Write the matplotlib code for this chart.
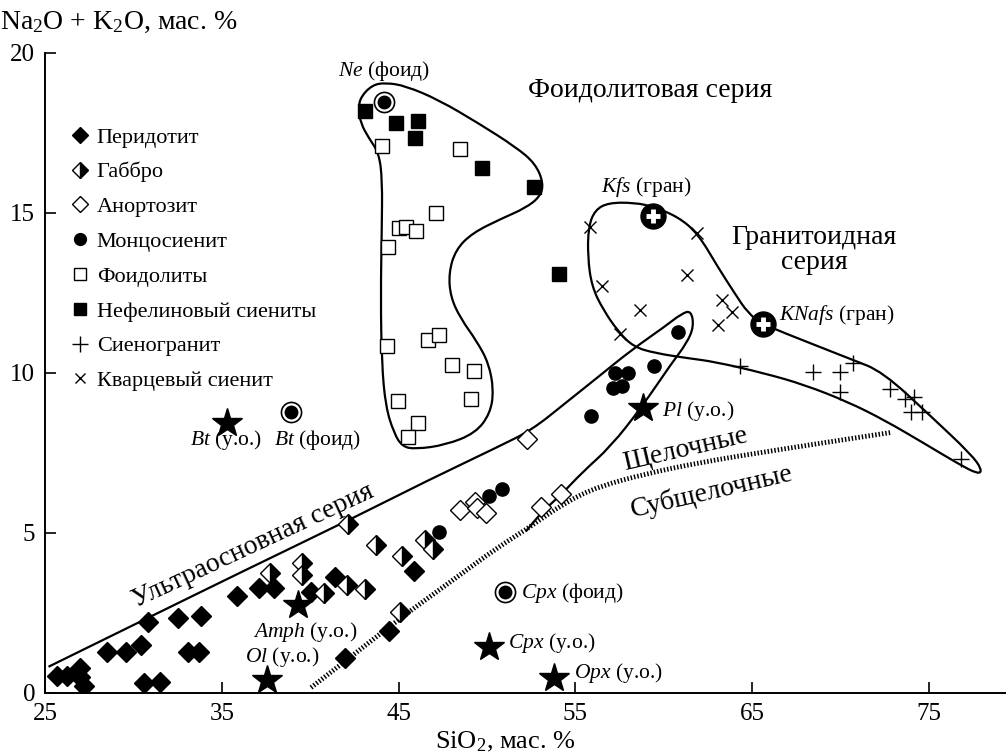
import numpy as np
import matplotlib
matplotlib.use('Agg')
import matplotlib.pyplot as plt
from matplotlib.path import Path
from matplotlib.patches import PathPatch
from matplotlib.lines import Line2D

plt.rcParams['font.family'] = ['Liberation Serif', 'DejaVu Serif']
plt.rcParams['mathtext.fontset'] = 'custom'
plt.rcParams['mathtext.rm'] = 'Liberation Serif'
plt.rcParams['mathtext.it'] = 'Liberation Serif:italic'

# --- data (SiO2, Na2O+K2O, wt %) ---
perid_x = [25.66, 26.22, 27.0, 27.0, 27.2, 28.5, 29.6, 30.45, 30.8, 32.5, 33.84, 33.1, 33.74,
           30.6, 31.5, 35.87, 37.09, 37.97, 40.04, 41.4, 41.98, 44.46, 45.9]
perid_y = [0.53, 0.53, 0.77, 0.49, 0.22, 1.27, 1.27, 1.5, 2.23, 2.33, 2.41, 1.27, 1.27,
           0.3, 0.35, 3.03, 3.27, 3.27, 3.17, 3.63, 1.1, 1.95, 3.82]
gabbro_x = [42.16, 37.73, 39.53, 39.53, 40.79, 42.1, 43.7, 45.2, 46.5, 46.94, 43.1, 45.1]
gabbro_y = [5.28, 3.76, 4.07, 3.69, 3.13, 3.37, 4.63, 4.28, 4.78, 4.49, 3.24, 2.54]
anorth_x = [52.26, 48.45, 49.35, 49.44, 49.95, 53.05, 54.2]
anorth_y = [7.95, 5.72, 5.98, 5.77, 5.63, 5.82, 6.23]
monzo_x = [47.28, 50.1, 50.85, 55.89, 57.24, 57.96, 57.15, 57.66, 59.46, 60.78]
monzo_y = [5.04, 6.14, 6.36, 8.66, 9.99, 9.99, 9.54, 9.6, 10.22, 11.28]
foid_x = [44.08, 48.45, 47.13, 45.02, 45.4, 46.0, 44.42, 44.36, 46.66, 47.28, 48.03, 49.25,
          49.12, 44.97, 46.08, 45.53]
foid_y = [17.09, 17.0, 15.01, 14.52, 14.55, 14.45, 13.95, 10.84, 11.03, 11.19, 10.25, 10.07,
          9.19, 9.13, 8.43, 8.01]
nephsy_x = [43.1, 44.84, 46.1, 45.92, 49.72, 52.64, 54.05]
nephsy_y = [18.2, 17.82, 17.88, 17.33, 16.4, 15.82, 13.09]
syenogr_x = [64.29, 68.43, 69.99, 70.69, 69.99, 72.81, 73.64, 74.13, 73.98, 74.58, 76.83]
syenogr_y = [10.22, 10.04, 10.04, 10.3, 9.42, 9.49, 9.18, 9.24, 8.79, 8.79, 7.3]
qsyen_x = [55.83, 61.9, 56.49, 61.32, 58.65, 57.53, 63.31, 63.86, 63.07]
qsyen_y = [14.57, 14.37, 12.72, 13.06, 11.97, 11.22, 12.28, 11.92, 11.5]

# minerals: ultrabasic (у.о.), foidolite (фоид), granite (гран)
uo_names = ['Bt', 'Amph', 'Ol', 'Cpx', 'Opx', 'Pl']
uo_x = [35.28, 39.34, 37.54, 50.14, 53.82, 58.8]
uo_y = [8.45, 2.75, 0.41, 1.45, 0.48, 8.92]
fd_names = ['Bt', 'Cpx', 'Ne']
fd_x = [38.91, 51.0, 44.18]
fd_y = [8.79, 3.17, 18.48]
gr_names = ['Kfs', 'KNafs']
gr_x = [59.37, 65.6]
gr_y = [14.9, 11.52]

# series boundaries
foid_bx = [42.86, 43.52, 44.27, 45.4, 47.28, 49.53, 51.6, 52.73, 53.2, 53.01, 52.17, 50.85,
           49.16, 48.22, 47.84, 47.94, 48.5, 49.44, 50.1, 50.38, 50.19, 49.35, 47.66, 45.96,
           45.21, 44.74, 44.27, 44.05, 43.99, 44.05, 44.08, 43.89, 43.33, 42.86, 42.73]
foid_by = [18.63, 19.0, 19.07, 18.97, 18.53, 17.8, 17.07, 16.55, 15.93, 15.51, 15.15, 14.83,
           14.37, 13.84, 13.12, 12.38, 11.71, 10.98, 10.3, 9.47, 8.74, 8.12, 7.75, 7.62,
           7.7, 8.12, 8.95, 10.3, 12.38, 14.47, 16.03, 16.87, 17.33, 17.8, 18.27]
gran_bx = [56.87, 58.37, 59.37, 60.81, 61.94, 63.07, 64.0, 64.76, 65.6, 68.33, 70.59, 72.38,
           75.2, 77.4, 78.0, 77.8, 76.6, 74.73, 72.47, 70.4, 67.96, 65.7, 62.88, 61.38,
           59.5, 58.28, 57.43, 56.58, 55.93, 55.7, 55.74, 56.11]
gran_by = [15.32, 15.32, 15.2, 14.88, 14.35, 13.3, 12.5, 11.87, 11.52, 10.92, 10.43, 10.04,
           8.6, 7.45, 6.98, 6.83, 7.18, 7.8, 8.53, 9.1, 9.63, 9.99, 10.35, 10.46,
           10.62, 10.82, 11.29, 11.97, 12.7, 13.63, 14.57, 15.09]
ultra_bx = [25.2, 30.8, 36.0, 42.77, 46.5, 50.66, 52.54, 54.42, 56.3, 58.18, 60.06, 61.0,
            61.55, 61.7, 61.3, 60.44, 58.75, 57.0, 55.4, 54.2, 53.1, 52.2]
ultra_by = [0.82, 2.34, 3.75, 5.56, 6.6, 7.7, 8.22, 9.05, 9.88, 10.72, 11.45, 11.85,
            11.95, 11.45, 10.93, 10.3, 8.93, 7.7, 6.9, 6.2, 5.65, 5.05]
alk_x = [40.05, 42.0, 45.0, 48.0, 50.66, 52.17, 54.4, 56.3, 59.0, 62.0, 66.45, 72.85]
alk_y = [0.17, 1.0, 2.3, 3.5, 4.57, 5.09, 5.95, 6.45, 6.85, 7.2, 7.6, 8.14]


def smooth_path(xs, ys, closed):
    # quadratic bezier through midpoints, traced points act as control points
    pts = np.column_stack([xs, ys])
    if closed:
        mids = (pts + np.roll(pts, -1, axis=0)) / 2
        verts = [mids[-1]]
        codes = [Path.MOVETO]
        for i in range(len(pts)):
            verts += [pts[i], mids[i]]
            codes += [Path.CURVE3, Path.CURVE3]
    else:
        mids = (pts[:-1] + pts[1:]) / 2
        verts = [pts[0]]
        codes = [Path.MOVETO]
        for i in range(1, len(pts) - 1):
            verts += [pts[i], mids[i]]
            codes += [Path.CURVE3, Path.CURVE3]
        verts.append(pts[-1])
        codes.append(Path.LINETO)
    return Path(verts, codes)


fig = plt.figure(figsize=(10.08, 7.53), dpi=100)
ax = fig.add_axes([0.0446, 0.0797, 0.9524, 0.85])

for bx, by, closed in [(foid_bx, foid_by, True), (gran_bx, gran_by, True),
                       (ultra_bx, ultra_by, False)]:
    ax.add_patch(PathPatch(smooth_path(bx, by, closed), fill=False, lw=1.6,
                           ec='black', zorder=2))
ax.add_patch(PathPatch(smooth_path(alk_x, alk_y, False), fill=False, lw=3.5,
                       ec='black', ls=(0, (0.3, 0.4)), zorder=2))

# --- rock groups ---
ax.plot(perid_x, perid_y, 'D', ms=10, color='black', ls='none', zorder=4)
ax.plot(gabbro_x, gabbro_y, 'D', ms=10, mfc='black', mfcalt='white', fillstyle='right',
        mec='black', mew=1.0, ls='none', zorder=4)
ax.plot(anorth_x, anorth_y, 'D', ms=10, mfc='white', mec='black', mew=1.0, ls='none', zorder=4)
ax.plot(monzo_x, monzo_y, 'o', ms=9.5, color='black', ls='none', zorder=4)
ax.plot(foid_x, foid_y, 's', ms=9.5, mfc='white', mec='black', mew=1.0, ls='none', zorder=4)
ax.plot(nephsy_x, nephsy_y, 's', ms=9.5, color='black', ls='none', zorder=4)
ax.plot(syenogr_x, syenogr_y, '+', ms=11, mec='black', mew=1.0, ls='none', zorder=4)
ax.plot(qsyen_x, qsyen_y, 'x', ms=8, mec='black', mew=1.0, ls='none', zorder=4)

# --- minerals ---
ax.plot(uo_x, uo_y, '*', ms=22, color='black', ls='none', zorder=5)
ax.plot(fd_x, fd_y, 'o', ms=14.5, mfc='white', mec='black', mew=1.2, ls='none', zorder=5)
ax.plot(fd_x, fd_y, 'o', ms=9, color='black', ls='none', zorder=6)
ax.plot(gr_x, gr_y, 'o', ms=18, color='black', ls='none', zorder=5)
ax.plot(gr_x, gr_y, '+', ms=10.5, mec='white', mew=3.5, ls='none', zorder=6)

lab_fs = 15.5
mineral_labels = [
    (uo_names[0] + '|у.о.', 35.27, 7.9, 'center'),
    (uo_names[1] + '|у.о.', 39.7, 1.9, 'center'),
    (uo_names[2] + '|у.о.', 38.4, 1.12, 'center'),
    (uo_names[3] + '|у.о.', 51.2, 1.56, 'left'),
    (uo_names[4] + '|у.о.', 54.9, 0.62, 'left'),
    (uo_names[5] + '|у.о.', 59.9, 8.8, 'left'),
    (fd_names[0] + '|фоид', 40.4, 7.9, 'center'),
    (fd_names[1] + '|фоид', 51.9, 3.12, 'left'),
    (fd_names[2] + '|фоид', 44.18, 19.45, 'center'),
    (gr_names[0] + '|гран', 59.0, 15.8, 'center'),
    (gr_names[1] + '|гран', 66.5, 11.8, 'left'),
]
for s, x, y, ha in mineral_labels:
    name, kind = s.split('|')
    ax.text(x, y, r'$\mathit{%s}$ (%s)' % (name, kind), fontsize=lab_fs, ha=ha, va='center')

big_fs = 20
ax.text(59.24, 18.84, 'Фоидолитовая серия', fontsize=big_fs, ha='center', va='center')
ax.text(68.5, 13.85, 'Гранитоидная\nсерия', fontsize=big_fs, ha='center', va='center',
        linespacing=1.0)
ax.text(36.75, 4.6, 'Ультраосновная серия', fontsize=big_fs, ha='center', va='center',
        rotation=25, rotation_mode='anchor')
ax.text(61.2, 7.6, 'Щелочные', fontsize=big_fs, ha='center', va='center',
        rotation=13, rotation_mode='anchor')
ax.text(62.7, 6.3, 'Субщелочные', fontsize=big_fs, ha='center', va='center',
        rotation=13, rotation_mode='anchor')

# --- legend ---
handles = [
    Line2D([], [], marker='D', ms=8.5, color='black', ls='none'),
    Line2D([], [], marker='D', ms=8.5, mfc='black', mfcalt='white', fillstyle='right',
           mec='black', ls='none'),
    Line2D([], [], marker='D', ms=8.5, mfc='white', mec='black', ls='none'),
    Line2D([], [], marker='o', ms=8.5, color='black', ls='none'),
    Line2D([], [], marker='s', ms=8.5, mfc='white', mec='black', ls='none'),
    Line2D([], [], marker='s', ms=8.5, color='black', ls='none'),
    Line2D([], [], marker='+', ms=11, mec='black', ls='none'),
    Line2D([], [], marker='x', ms=7.5, mec='black', ls='none'),
]
labels = ['Перидотит', 'Габбро', 'Анортозит', 'Монцосиенит', 'Фоидолиты',
          'Нефелиновый сиениты', 'Сиеногранит', 'Кварцевый сиенит']
ax.legend(handles, labels, loc='upper left', bbox_to_anchor=(0.019, 0.898), frameon=False,
          fontsize=16, handlelength=0.7, handletextpad=0.41, labelspacing=0.64,
          borderaxespad=0)

# --- axes ---
ax.set_xlim(25, 79.3)
ax.set_ylim(0, 20)
ax.set_xticks([25, 35, 45, 55, 65, 75])
ax.set_yticks([0, 5, 10, 15, 20])
ax.tick_params(direction='in', length=8, width=1.2, labelsize=18, pad=7)
for side in ['top', 'right']:
    ax.spines[side].set_visible(False)
for side in ['left', 'bottom']:
    ax.spines[side].set_linewidth(1.4)
ax.text(-0.047, 1.048, r'Na$_2$O + K$_2$O, мас. $\mathit{\%}$', transform=ax.transAxes,
        fontsize=20, ha='left', va='center')
ax.text(0.479, -0.0766, r'SiO$_2$, мас. $\mathit{\%}$', transform=ax.transAxes,
        fontsize=19, ha='center', va='center')

fig.savefig('out.png', dpi=100)
